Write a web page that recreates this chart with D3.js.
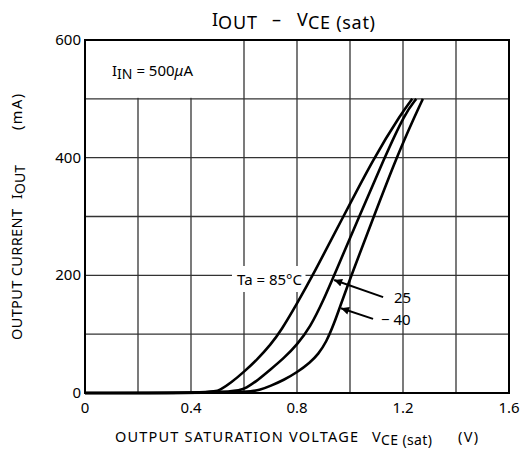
<!DOCTYPE html>
<html>
<head>
<meta charset="utf-8">
<script src="https://cdn.jsdelivr.net/npm/d3@7"></script>
<style>
  body { margin: 0; background: #fff; }
  text { font-family: "Noto Sans", "Open Sans", sans-serif; fill: #000; }
</style>
</head>
<body>
<div id="chart"></div>
<script>
// I_OUT vs V_CE(sat) at I_IN = 500uA
const curve85 = [[0, 0], [0.48, 0], [0.51, 5], [0.55, 17], [0.6, 36], [0.65, 57], [0.7, 82], [0.74, 106],
  [0.8, 152], [0.86, 200], [0.975, 300], [1.09, 400], [1.195, 476], [1.235, 500]];
const curve25 = [[0, 0], [0.57, 0], [0.61, 9], [0.65, 21], [0.7, 40], [0.75, 59], [0.8, 82], [0.85, 112],
  [0.9, 158], [0.94, 200], [1.035, 300], [1.13, 400], [1.208, 476], [1.25, 500]];
const curveM40 = [[0, 0], [0.61, 0], [0.66, 5], [0.7, 12], [0.75, 22], [0.8, 35], [0.85, 52], [0.88, 66],
  [0.91, 86], [0.94, 118], [0.965, 150], [1.005, 200], [1.09, 300], [1.175, 400], [1.25, 476], [1.275, 500]];
const curves = [curve85, curve25, curveM40];

const xTicks = [0, 0.4, 0.8, 1.2, 1.6];
const yTicks = [0, 200, 400, 600];
const xGrid = [0.2, 0.4, 0.6, 0.8, 1.0, 1.2, 1.4];
const yGrid = [100, 200, 300, 400, 500];

const W = 525, H = 454;
const margin = {left: 85, top: 40, right: 16, bottom: 61};
const w = W - margin.left - margin.right;
const h = H - margin.top - margin.bottom;

const svg = d3.select('#chart').append('svg')
  .attr('width', W)
  .attr('height', H);

const x = d3.scaleLinear().domain([0, 1.6]).range([margin.left, margin.left + w]);
const y = d3.scaleLinear().domain([0, 600]).range([margin.top + h, margin.top]);

// grid
svg.append('g').selectAll('line.vg')
  .data(xGrid)
  .enter().append('line')
  .attr('x1', d => x(d)).attr('x2', d => x(d))
  .attr('y1', y(0)).attr('y2', y(600))
  .attr('stroke', '#333').attr('stroke-width', 1.3);
svg.append('g').selectAll('line.hg')
  .data(yGrid)
  .enter().append('line')
  .attr('x1', x(0)).attr('x2', x(1.6))
  .attr('y1', d => y(d)).attr('y2', d => y(d))
  .attr('stroke', '#333').attr('stroke-width', 1.3);

// blank box for the I_IN label (top left cell has no gridlines)
svg.append('rect')
  .attr('x', x(0) + 1).attr('y', y(600) + 1)
  .attr('width', x(0.6) - x(0) - 2).attr('height', y(500) - y(600) - 2)
  .attr('fill', '#fff');

const iin = svg.append('text')
  .attr('x', 112).attr('y', 76)
  .style('font-size', '15px');
iin.append('tspan').text('I');
iin.append('tspan').attr('dy', 3).style('font-size', '14px').text('IN');
iin.append('tspan').attr('dy', -3).text(' = 500');
iin.append('tspan').style('font-style', 'italic').text('\u03bc');
iin.append('tspan').text('A');

// Ta label with white background
const bgTa = svg.append('rect').attr('fill', '#fff');
const taLabel = svg.append('text')
  .attr('x', 237).attr('y', 285)
  .style('font-size', '15px')
  .text('Ta = 85\u00b0C');
const bb = taLabel.node().getBBox();
bgTa.attr('x', bb.x - 5).attr('y', bb.y - 3)
  .attr('width', bb.width + 8).attr('height', bb.height + 6);

// frame
svg.append('rect')
  .attr('x', x(0)).attr('y', y(600))
  .attr('width', w).attr('height', h)
  .attr('fill', 'none')
  .attr('stroke', '#000').attr('stroke-width', 2);

// curves
const line = d3.line()
  .x(d => x(d[0]))
  .y(d => y(d[1]))
  .curve(d3.curveBasis);
svg.append('g').selectAll('path.curve')
  .data(curves)
  .enter().append('path')
  .attr('d', line)
  .attr('fill', 'none')
  .attr('stroke', '#000')
  .attr('stroke-width', 2.6);

// arrows to 25 and -40 curves
svg.append('defs').append('marker')
  .attr('id', 'arrow')
  .attr('viewBox', '0 0 10 10')
  .attr('refX', 10).attr('refY', 5)
  .attr('markerWidth', 5).attr('markerHeight', 4)
  .attr('orient', 'auto')
  .append('path').attr('d', 'M0,0 L10,5 L0,10 Z').attr('fill', '#000');

const labels = [
  {text: '25', tx: 394, ty: 303, from: [1.125, 163], to: [0.94, 192]},
  {text: '\u2212 40', tx: 381, ty: 325, from: [1.087, 126], to: [0.966, 144]}
];
labels.forEach(function (d) {
  svg.append('line')
    .attr('x1', x(d.from[0])).attr('y1', y(d.from[1]))
    .attr('x2', x(d.to[0])).attr('y2', y(d.to[1]))
    .attr('stroke', '#000').attr('stroke-width', 2)
    .attr('marker-end', 'url(#arrow)');
  svg.append('text')
    .attr('x', d.tx).attr('y', d.ty)
    .style('font-size', '15px')
    .text(d.text);
});

// tick labels
svg.append('g').selectAll('text.yt')
  .data(yTicks)
  .enter().append('text')
  .attr('x', x(0) - 4)
  .attr('y', d => y(d) + 5)
  .attr('text-anchor', 'end')
  .style('font-size', '15px')
  .text(d => d);
svg.append('g').selectAll('text.xt')
  .data(xTicks)
  .enter().append('text')
  .attr('x', d => x(d))
  .attr('y', y(0) + 20)
  .attr('text-anchor', 'middle')
  .style('font-size', '15px')
  .text(d => d === 0 ? '0' : d.toFixed(1));

// piece of text stretched to the width it has in the original
function piece(g, str, px, py, size, len) {
  const t = g.append('text')
    .attr('x', px).attr('y', py)
    .style('font-size', size + 'px')
    .text(str);
  if (len) t.attr('textLength', len).attr('lengthAdjust', 'spacing');
  return t;
}

// title
const gt = svg.append('g');
piece(gt, 'I', 212, 26, 18);
piece(gt, 'OUT', 218, 29, 18, 39);
piece(gt, '\u2013', 272, 26, 18);
piece(gt, 'V', 297, 26, 18);
piece(gt, 'CE (sat)', 308, 29, 18, 67);

// x axis title
const gx = svg.append('g');
piece(gx, 'OUTPUT SATURATION VOLTAGE', 115, 442, 14.5, 243);
piece(gx, 'V', 372, 442, 14.5);
piece(gx, 'CE (sat)', 381, 445, 14, 51);
piece(gx, '(V)', 458, 442, 14.5, 20);

// y axis title
const gy = svg.append('g').attr('transform', 'translate(22,340) rotate(-90)');
piece(gy, 'OUTPUT CURRENT', 0, 0, 14.5, 131);
piece(gy, 'I', 141, 0, 14.5);
piece(gy, 'OUT', 146, 3, 14, 29);
piece(gy, '(mA)', 210, 0, 14.5, 36);
</script>
</body>
</html>
